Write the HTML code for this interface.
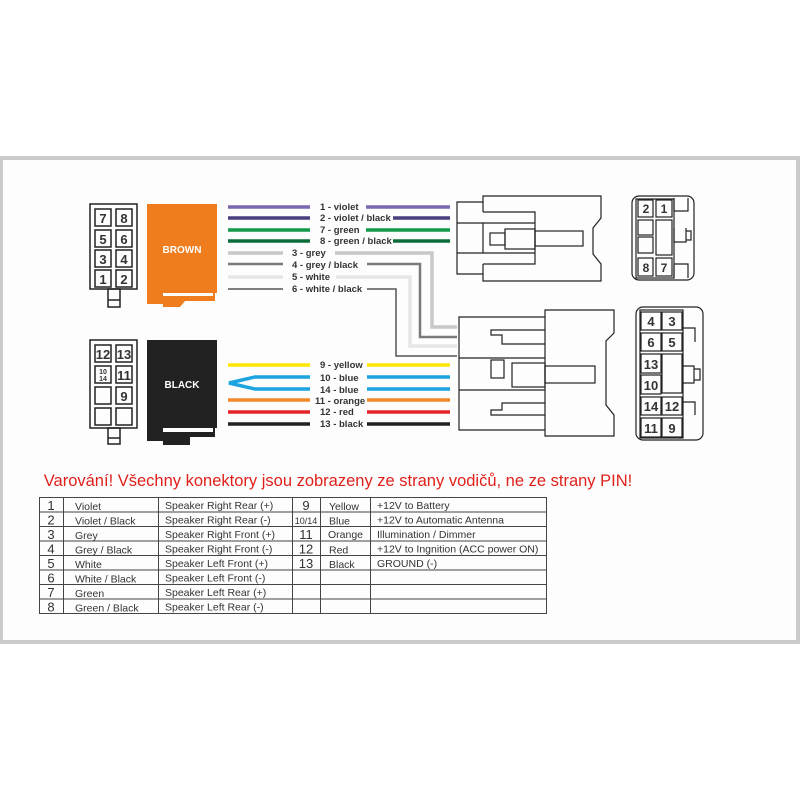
<!DOCTYPE html>
<html><head><meta charset="utf-8"><style>
body{margin:0;background:#fff;}
svg{display:block;font-family:"Liberation Sans",Arial,sans-serif;}
</style></head><body>
<svg width="800" height="800" viewBox="0 0 800 800" xmlns="http://www.w3.org/2000/svg">
<rect x="0" y="156" width="800" height="488" fill="#cbcbcb"/>
<rect x="3" y="160" width="793" height="480" fill="#fdfdfd"/>

<!-- left brown connector -->
<g fill="none" stroke="#222" stroke-width="1.5">
<rect x="90" y="204" width="47" height="85"/>
<rect x="95" y="209" width="16" height="17"/><rect x="116" y="209" width="16" height="17"/>
<rect x="95" y="230" width="16" height="17"/><rect x="116" y="230" width="16" height="17"/>
<rect x="95" y="250" width="16" height="17"/><rect x="116" y="250" width="16" height="17"/>
<rect x="95" y="270" width="16" height="17"/><rect x="116" y="270" width="16" height="17"/>
<rect x="108" y="289" width="12" height="18"/><line x1="108" y1="300" x2="120" y2="300"/>
</g>
<g font-size="13" font-weight="bold" fill="#333" text-anchor="middle">
<text x="103" y="223">7</text><text x="124" y="223">8</text>
<text x="103" y="244">5</text><text x="124" y="244">6</text>
<text x="103" y="264">3</text><text x="124" y="264">4</text>
<text x="103" y="284">1</text><text x="124" y="284">2</text>
</g>
<path d="M147 204H217V293H215V301H185L180 307H163V304H147Z" fill="#ef7d1e"/>
<path d="M163 296H213V293H163Z" fill="#fff"/>
<text x="182" y="253" font-size="10" font-weight="bold" fill="#fff" text-anchor="middle">BROWN</text>

<!-- left black connector -->
<g fill="none" stroke="#222" stroke-width="1.5">
<rect x="90" y="340" width="47" height="88"/>
<rect x="95" y="345" width="16" height="17"/><rect x="116" y="345" width="16" height="17"/>
<rect x="95" y="366" width="16" height="17"/><rect x="116" y="366" width="16" height="17"/>
<rect x="95" y="387" width="16" height="17"/><rect x="116" y="387" width="16" height="17"/>
<rect x="95" y="408" width="16" height="17"/><rect x="116" y="408" width="16" height="17"/>
<rect x="108" y="428" width="12" height="16"/><line x1="108" y1="438" x2="120" y2="438"/>
</g>
<g font-size="13" font-weight="bold" fill="#333" text-anchor="middle">
<text x="103" y="359">12</text><text x="124" y="359">13</text>
<text x="103" y="374" font-size="7">10</text><text x="103" y="381" font-size="7">14</text>
<text x="124" y="380">11</text><text x="124" y="401">9</text>
</g>
<path d="M147 340H217V428H215V437H190V445H163V441H147Z" fill="#222"/>
<path d="M163 432H213V428H163Z" fill="#fff"/>
<text x="182" y="388" font-size="10" font-weight="bold" fill="#fff" text-anchor="middle">BLACK</text>

<!-- wires top -->
<g fill="none" stroke-width="3.5">
<path d="M228 207H310M366 207H450" stroke="#7b68b0"/>
<path d="M228 218H310M393 218H450" stroke="#4b3f80"/>
<path d="M228 230H310M366 230H450" stroke="#129a4a"/>
<path d="M228 241H310M393 241H450" stroke="#0b6e3a"/>
<path d="M228 253H283M335 253H432V327H457" stroke="#c8c8c8"/>
<path d="M228 264H283M367 264H420V337H457" stroke="#7a7a7a" stroke-width="2.5"/>
<path d="M228 277H283M336 277H410V346H457" stroke="#e6e6e6"/>
<path d="M228 289H283M367 289H396V356H457" stroke="#555" stroke-width="1.5"/>
<path d="M228 365H310M367 365H450" stroke="#ffe600"/>
<path d="M310 377H255L229 383L255 389H310M367 377H450M367 389H450" stroke="#1ba4e0"/>
<path d="M228 400H310M367 400H450" stroke="#f28a2a"/>
<path d="M228 412H310M367 412H450" stroke="#e3242b"/>
<path d="M228 424H310M367 424H450" stroke="#222"/>
</g>
<g font-size="9.5" font-weight="bold" fill="#333">
<text x="320" y="210">1 - violet</text>
<text x="320" y="221">2 - violet / black</text>
<text x="320" y="233">7 - green</text>
<text x="320" y="244">8 - green / black</text>
<text x="292" y="256">3 - grey</text>
<text x="292" y="268">4 - grey / black</text>
<text x="292" y="280">5 - white</text>
<text x="292" y="292">6 - white / black</text>
<text x="320" y="368">9 - yellow</text>
<text x="320" y="381">10 - blue</text>
<text x="320" y="393">14 - blue</text>
<text x="315" y="404">11 - orange</text>
<text x="320" y="415">12 - red</text>
<text x="320" y="427">13 - black</text>
</g>

<!-- right top plug -->
<g fill="none" stroke="#222" stroke-width="1.2">
<path d="M457 202H483V196H601V218L593 228V254L601 264V281H483V274H457Z"/>
<path d="M457 223H535M457 253H535M483 212H535V264H483M483 212V202M483 264V274"/>
<path d="M483 223V253"/>
<rect x="535" y="231" width="48" height="15"/>
<rect x="505" y="229" width="30" height="20"/>
<rect x="490" y="233" width="15" height="12"/>
<rect x="632" y="196" width="62" height="84" rx="7"/>
<rect x="636" y="199" width="38" height="79"/>
<rect x="638" y="200" width="15" height="17"/><rect x="656" y="200" width="16" height="17"/>
<rect x="638" y="220" width="15" height="15"/><rect x="638" y="237" width="15" height="16"/>
<rect x="656" y="220" width="16" height="35"/>
<rect x="638" y="258" width="15" height="18"/><rect x="656" y="258" width="16" height="18"/>
<path d="M674 198V211H688V198M674 228V242H686V228M686 231H691V240H686M674 265V278M674 264H688V278"/>
</g>
<g font-size="12" font-weight="bold" fill="#333" text-anchor="middle">
<text x="646" y="213">2</text><text x="664" y="213">1</text>
<text x="646" y="272">8</text><text x="664" y="272">7</text>
</g>

<!-- right bottom plug -->
<g fill="none" stroke="#222" stroke-width="1.2">
<path d="M459 317H545V310H614V333L606 341V405L614 415V436H545V430H459Z"/>
<path d="M545 317V430M459 358H545M459 390H545"/>
<path d="M545 330H491V335H502V344H545M545 403H502V410H491V415H545"/>
<rect x="491" y="360" width="13" height="18"/>
<rect x="512" y="363" width="33" height="24"/>
<rect x="545" y="366" width="50" height="17"/>
<rect x="636" y="307" width="67" height="133" rx="7"/>
<rect x="640" y="310" width="43" height="128"/>
<rect x="641" y="312" width="20" height="18"/><rect x="662" y="312" width="20" height="18"/>
<rect x="641" y="333" width="20" height="18"/><rect x="662" y="333" width="20" height="18"/>
<rect x="641" y="354" width="20" height="19"/><rect x="641" y="375" width="20" height="19"/>
<rect x="662" y="354" width="20" height="39"/>
<rect x="641" y="397" width="20" height="18"/><rect x="662" y="397" width="20" height="18"/>
<rect x="641" y="418" width="20" height="19"/><rect x="662" y="418" width="20" height="19"/>
<path d="M683 328H695V342M683 366H694V383H683M694 369H700V380H694M683 402H695V415"/>
</g>
<g font-size="13" font-weight="bold" fill="#333" text-anchor="middle">
<text x="651" y="326">4</text><text x="672" y="326">3</text>
<text x="651" y="347">6</text><text x="672" y="347">5</text>
<text x="651" y="369">13</text><text x="651" y="390">10</text>
<text x="651" y="411">14</text><text x="672" y="411">12</text>
<text x="651" y="433">11</text><text x="672" y="433">9</text>
</g>

<text x="338" y="486" font-size="16.5" fill="#e0201b" text-anchor="middle">Varování! Všechny konektory jsou zobrazeny ze strany vodičů, ne ze strany PIN!</text>

<!-- table -->
<g stroke="#444" stroke-width="1" fill="none">
<rect x="39.5" y="497.5" width="507" height="116"/>
<path d="M63.5 497V614M158.5 497V614M292.5 497V614M320.5 497V614M370.5 497V614"/>
<path d="M39 512H547M39 526.5H547M39 541H547M39 555.5H547M39 570H547M39 584.5H547M39 599H547"/>
</g>
<g font-size="10.5" fill="#333">
<g text-anchor="middle" font-size="13">
<text x="51" y="510">1</text><text x="51" y="524.5">2</text><text x="51" y="539">3</text><text x="51" y="553.5">4</text>
<text x="51" y="568">5</text><text x="51" y="582.5">6</text><text x="51" y="597">7</text><text x="51" y="611.5">8</text>
<text x="306" y="510">9</text><text x="306" y="524" font-size="9">10/14</text><text x="306" y="539">11</text><text x="306" y="553.5">12</text><text x="306" y="568">13</text>
</g>
<text x="75" y="510">Violet</text><text x="75" y="524.5">Violet / Black</text><text x="75" y="539">Grey</text><text x="75" y="553.5">Grey / Black</text>
<text x="75" y="568">White</text><text x="75" y="582.5">White / Black</text><text x="75" y="597">Green</text><text x="75" y="611.5">Green / Black</text>
<text x="165" y="509">Speaker Right Rear (+)</text><text x="165" y="523.5">Speaker Right Rear (-)</text><text x="165" y="538">Speaker Right Front (+)</text><text x="165" y="552.5">Speaker Right Front (-)</text>
<text x="165" y="567">Speaker Left Front (+)</text><text x="165" y="581.5">Speaker Left Front (-)</text><text x="165" y="596">Speaker Left Rear (+)</text><text x="165" y="610.5">Speaker Left Rear (-)</text>
<text x="329" y="510">Yellow</text><text x="329" y="524.5">Blue</text><text x="328" y="538">Orange</text><text x="329" y="553.5">Red</text><text x="329" y="568">Black</text>
<text x="377" y="509">+12V to Battery</text><text x="377" y="523.5">+12V to Automatic Antenna</text><text x="377" y="538">Illumination / Dimmer</text>
<text x="377" y="552.5">+12V to Ingnition (ACC power ON)</text><text x="377" y="567">GROUND (-)</text>
</g>
</svg>
</body></html>
